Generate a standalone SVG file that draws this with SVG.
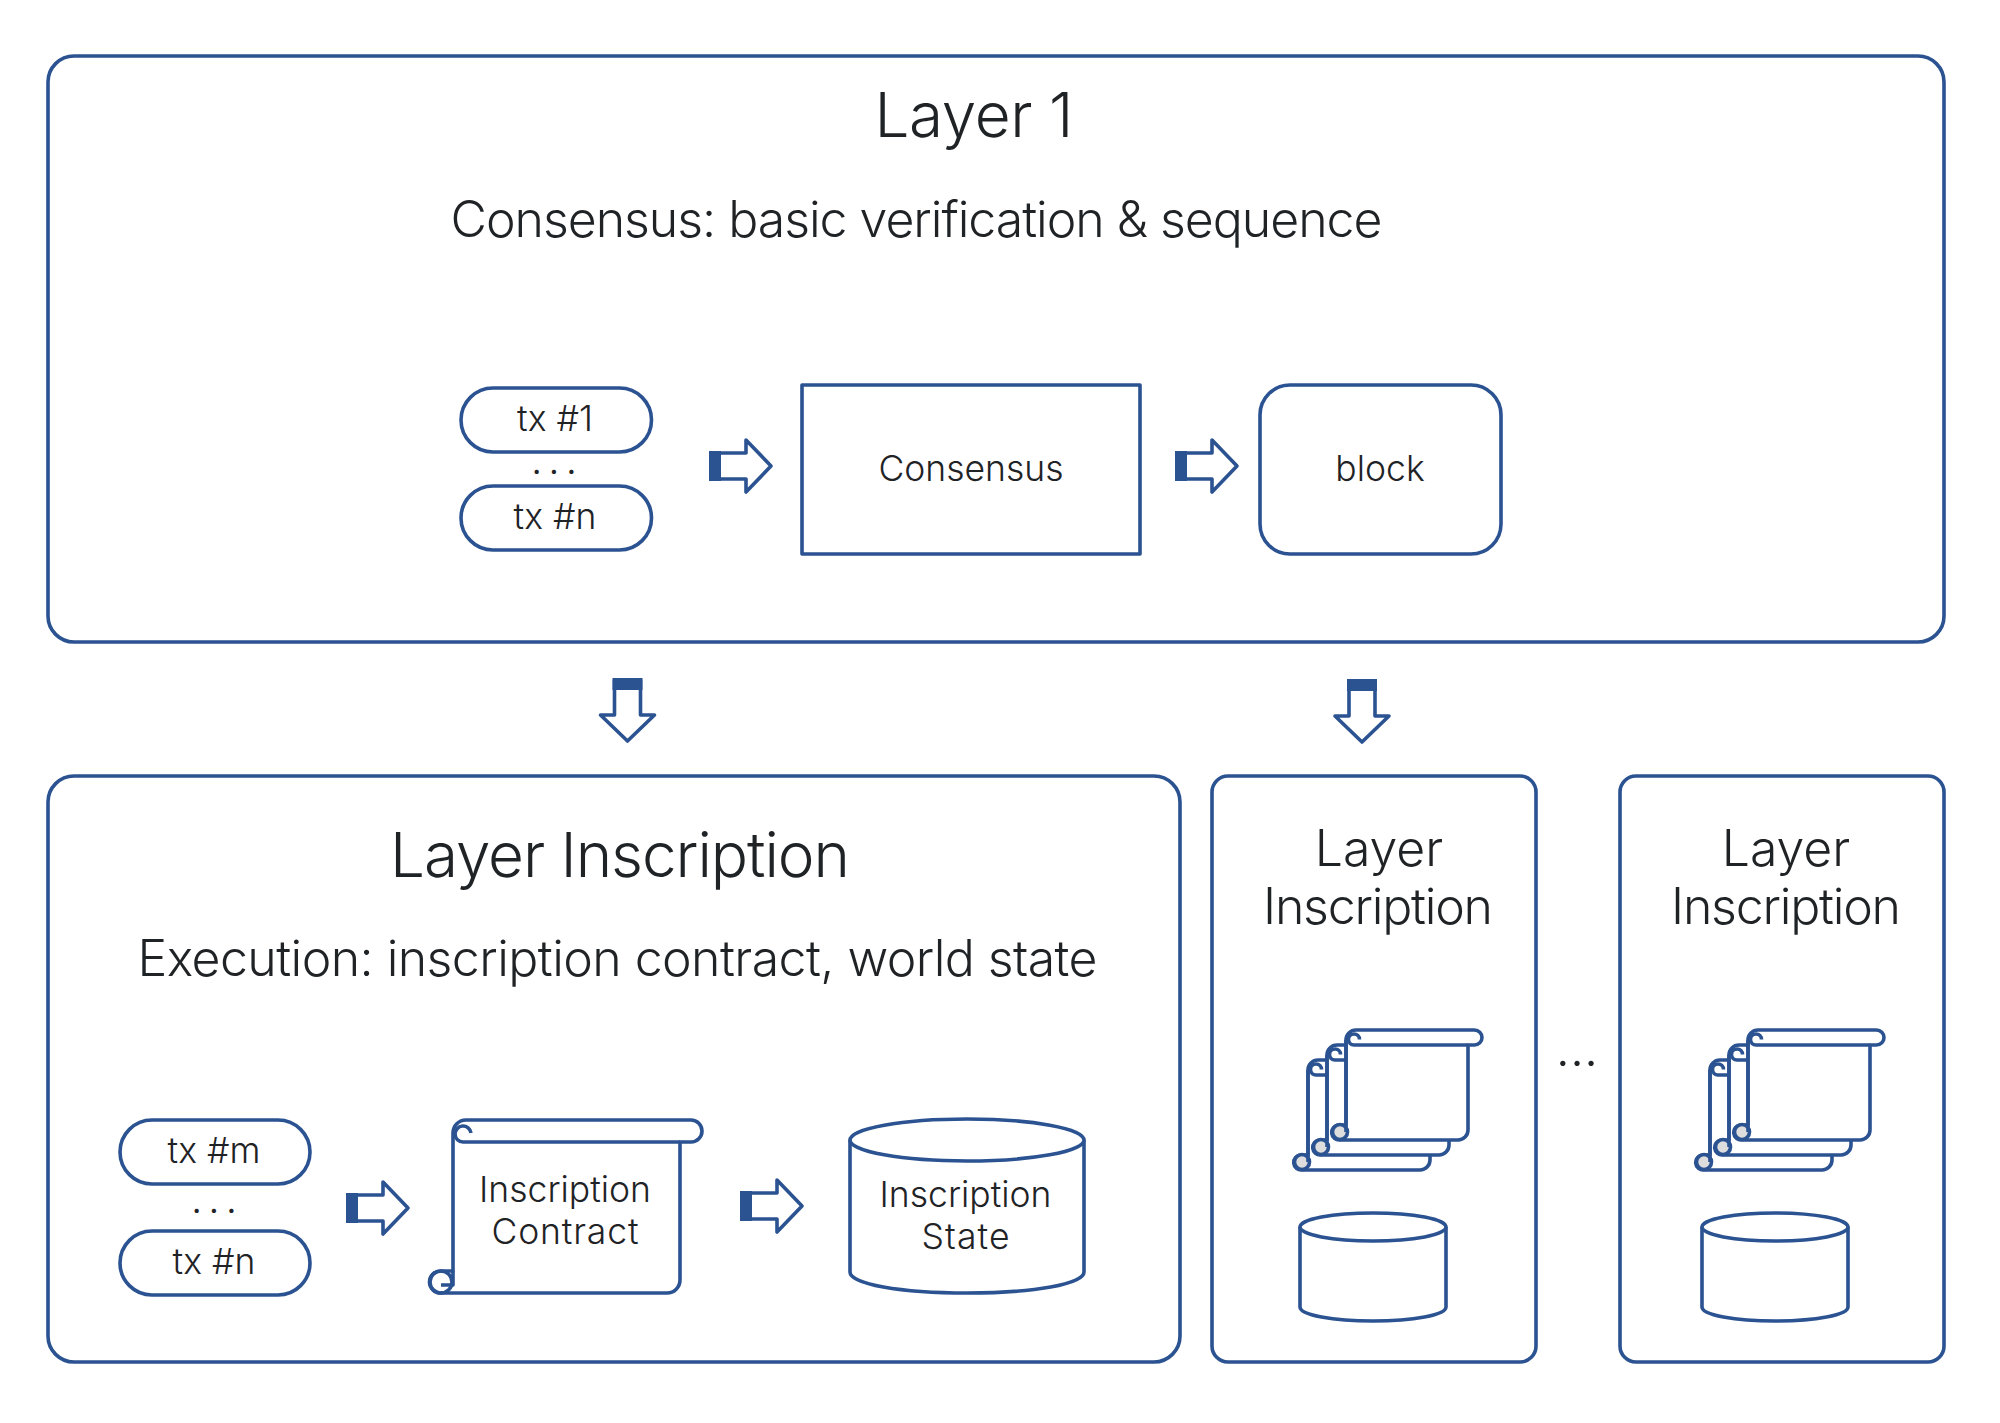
<svg xmlns="http://www.w3.org/2000/svg" width="2000" height="1423" viewBox="0 0 2000 1423">
<style>
.s{fill:none;stroke:#2b5291;stroke-width:3.6;stroke-linejoin:round}
.w{fill:#fff;stroke:#2b5291;stroke-width:3.6;stroke-linejoin:round}
.g{fill:#ddd;stroke:#2b5291;stroke-width:3.6}
.d{fill:#2b5291}
text{font-family:"Inter","Liberation Sans",sans-serif;font-weight:300;fill:#1f2326;text-anchor:middle}
.h{font-size:62px}.m{font-size:50px}.l{font-size:35.5px}
.t{font-size:40px;letter-spacing:6px}
</style>
<defs>
<g id="arR"><path class="w" d="M1 -13H36V-26L61 0L36 26V13H1Z"/><rect class="d" x="-1" y="-15" width="12" height="30"/></g>
<g id="arD"><path class="w" d="M-13 1V36H-27L0 62L27 36H13V1Z"/><rect class="d" x="-15" y="-1" width="30" height="12"/></g>
<g id="scroll"><path class="w" d="M10 0H128.500a7.500 7.500 0 0 1 0 15H122V100a10 10 0 0 1-10 10H-6a7.500 7.500 0 0 1-1.500-15H0V10a10 10 0 0 1 10-10Z"/><path class="s" d="M8 15H122M8 15a5.500 5.500 0 1 1 5.500-5.500"/><circle class="g" cx="-6" cy="102" r="7.500"/><path class="w" d="M0 10V102"/></g>
<g id="stack"><use href="#scroll" x="-38" y="30"/><use href="#scroll" x="-19" y="15"/><use href="#scroll" x="0" y="0"/></g>
<g id="cyl"><path class="w" d="M0 14V94C0 102 33 108 73 108S146 102 146 94V14"/><ellipse class="w" cx="73" cy="14" rx="73" ry="14"/></g>
</defs>
<g id="connectors">
<use href="#arR" x="710" y="466"/>
<use href="#arR" x="1176" y="466"/>
<use href="#arD" x="627.500" y="679"/>
<use href="#arD" x="1362" y="680"/>
<use href="#arR" x="347" y="1208"/>
<use href="#arR" x="741" y="1206"/>
</g>
<g id="layer1">
<rect class="s" x="48" y="56" width="1896" height="586" rx="26"/>
<text class="h" x="974" y="137" textLength="199">Layer 1</text>
<text class="m" x="916.500" y="237" textLength="932">Consensus: basic verification &amp; sequence</text>
</g>
<g id="tx1"><rect class="s" x="461" y="388" width="190.500" height="64" rx="32"/><text class="l" x="555" y="431">tx #1</text></g>
<g id="dots1"><text class="t" x="557" y="474">...</text></g>
<g id="txn"><rect class="s" x="461" y="486" width="190.500" height="64" rx="32"/><text class="l" x="555" y="529">tx #n</text></g>
<g id="consensus"><rect class="s" x="802" y="385" width="338" height="169"/><text class="l" x="971" y="481">Consensus</text></g>
<g id="block"><rect class="s" x="1260" y="385" width="241" height="169" rx="30"/><text class="l" x="1380" y="481">block</text></g>
<g id="layerInscriptionMain">
<rect class="s" x="48" y="776" width="1132" height="586" rx="26"/>
<text class="h" x="620" y="877" textLength="460">Layer Inscription</text>
<text class="m" x="617.500" y="976" textLength="960">Execution: inscription contract, world state</text>
</g>
<g id="txm"><rect class="s" x="120" y="1120" width="190" height="64" rx="32"/><text class="l" x="214" y="1163">tx #m</text></g>
<g id="dots2"><text class="t" x="217" y="1213">...</text></g>
<g id="txn2"><rect class="s" x="120" y="1231" width="190" height="64" rx="32"/><text class="l" x="214" y="1274">tx #n</text></g>
<g id="contract">
<path class="w" d="M466 1120H691a11 11 0 0 1 0 22H680V1280a13 13 0 0 1-13 13H441a11 11 0 0 1-1-22H453V1133a13 13 0 0 1 13-13Z"/>
<path class="s" d="M463 1142H680M463 1142a8 8 0 1 1 8-9"/>
<circle class="s" cx="441" cy="1282" r="11"/><path class="s" d="M453 1271V1285H441"/>
<text class="l" x="565" y="1202">Inscription</text><text class="l" x="565" y="1244" textLength="147">Contract</text>
</g>
<g id="state">
<path class="w" d="M850 1140V1272C850 1284 900 1293 967 1293S1084 1284 1084 1272V1140"/>
<ellipse class="w" cx="967" cy="1140" rx="117" ry="21"/>
<text class="l" x="965.500" y="1207">Inscription</text><text class="l" x="965.500" y="1249" textLength="88">State</text>
</g>
<g id="panelA">
<rect class="s" x="1212" y="776" width="324" height="586" rx="16"/>
<text class="m" x="1379" y="866">Layer</text><text class="m" x="1378" y="924" textLength="230">Inscription</text>
<use href="#stack" x="1346" y="1030"/><use href="#cyl" x="1300" y="1213"/>
</g>
<g id="ellipsis"><text class="m" x="1577" y="1066">...</text></g>
<g id="panelB">
<rect class="s" x="1620" y="776" width="324" height="586" rx="16"/>
<text class="m" x="1786" y="866">Layer</text><text class="m" x="1786" y="924" textLength="230">Inscription</text>
<use href="#stack" x="1748" y="1030"/><use href="#cyl" x="1702" y="1213"/>
</g>
</svg>
